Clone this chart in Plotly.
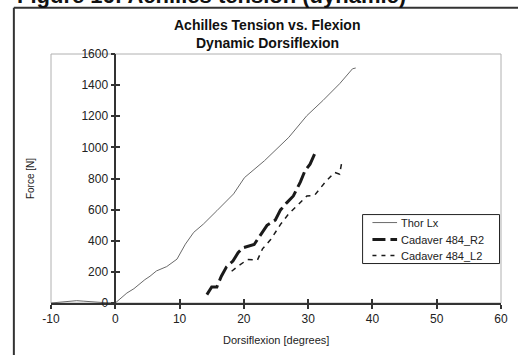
import plotly.graph_objects as go

# ---- data ----
thor_x = [-10, -9, -8, -7, -6, -5, -4, -3, -2, -1, 0, 1.8, 2.9, 4.6, 5.4, 6.4, 8.0, 9.6, 10.9, 12.2, 13.7,
          15.8, 18.4, 20.1, 23.2, 27.0, 29.8, 32.3, 34.9, 36.9, 37.4]
thor_y = [0, 4, 10, 14, 15, 12, 8, 5, 3, 1, 0, 64, 92, 150, 172, 206, 234, 282, 378, 454, 507,
          593, 701, 806, 914, 1065, 1204, 1301, 1409, 1505, 1510]

r2_x = [14.25, 15.0, 15.8, 16.5, 17.3, 18.3, 19.1, 19.85, 21.6, 22.6, 23.6, 24.9, 25.7, 26.7, 27.7, 28.8,
        29.5, 30.3, 31.0, 31.55]
r2_y = [54, 103, 103, 172, 232, 269, 323, 355, 376, 441, 499, 533, 598, 645, 688, 778,
        849, 892, 957, 963]

l2_x = [18.1, 19.1, 20.6, 22.1, 22.9, 24.2, 25.7, 27.0, 28.5, 29.8, 31.0, 32.6, 34.1, 34.9, 35.3]
l2_y = [204, 237, 280, 275, 348, 409, 505, 574, 634, 688, 692, 774, 839, 828, 920]

series_names = ["Thor Lx", "Cadaver 484_R2", "Cadaver 484_L2"]

x_ticks = [-10, 0, 10, 20, 30, 40, 50, 60]
y_ticks = [0, 200, 400, 600, 800, 1000, 1200, 1400, 1600]

FONT = "Liberation Sans, Arial, sans-serif"

# layout geometry (pixels)
W, H = 518, 355
PL, PR, PT, PB = 50.7, 507.5, 54.3, 303.5


def px(xp):
    return (xp - PL) / (PR - PL)


def py(yp):
    return (PB - yp) / (PB - PT)


styles = [
    dict(color="#6a6a6a", width=1, dash="solid"),
    dict(color="#1a1a1a", width=3, dash="16px,5px"),
    dict(color="#1a1a1a", width=1.5, dash="5px,5px"),
]

fig = go.Figure()
for xs, ys, nm, st in zip([thor_x, r2_x, l2_x], [thor_y, r2_y, l2_y], series_names, styles):
    fig.add_trace(go.Scatter(x=xs, y=ys, mode="lines", name=nm, line=st, showlegend=False))
# helper trace for the inner half of the crossing ticks
fig.add_trace(go.Scatter(x=[None], y=[None], xaxis="x2", yaxis="y2", showlegend=False,
                         hoverinfo="skip"))

ypos = (0 - (-10)) / 70.0

fig.update_layout(
    width=W, height=H,
    margin=dict(l=PL, r=W - PR, t=PT, b=H - PB),
    paper_bgcolor="white", plot_bgcolor="white",
    font=dict(family=FONT, color="#222", size=11),
    showlegend=False,
    xaxis=dict(range=[-10, 60], domain=[0, 1], tickvals=x_ticks,
               ticktext=[str(v) for v in x_ticks],
               showgrid=False, zeroline=False, showline=True, linecolor="#333", linewidth=1.5,
               ticks="outside", ticklen=4, tickcolor="#333", tickwidth=1.5,
               tickfont=dict(size=12, color="#222")),
    yaxis=dict(range=[0, 1600], tickvals=y_ticks, ticktext=[str(v) for v in y_ticks],
               anchor="free", position=ypos,
               showgrid=False, zeroline=False, showline=True, linecolor="#333", linewidth=1.5,
               ticks="outside", ticklen=4, tickcolor="#333", tickwidth=1.5,
               tickfont=dict(size=12, color="#222")),
    xaxis2=dict(range=[-10, 60], overlaying="x", anchor="y", tickvals=x_ticks, showticklabels=False,
                showgrid=False, zeroline=False, showline=False, ticks="inside", ticklen=4,
                tickcolor="#333", tickwidth=1.5, side="bottom"),
    yaxis2=dict(range=[0, 1600], overlaying="y", anchor="free", position=ypos, tickvals=y_ticks,
                showticklabels=False, showgrid=False, zeroline=False, showline=False,
                ticks="inside", ticklen=4, tickcolor="#333", tickwidth=1.5, side="left"),
)

# plot-area frame (light grey), and the outer chart frame
fig.add_shape(type="rect", xref="paper", yref="paper", x0=0, y0=0, x1=1, y1=1,
              line=dict(color="#b0b0b0", width=1), layer="below")
fig.add_shape(type="line", xref="paper", yref="paper", x0=px(13), y0=py(8), x1=px(13), y1=py(360),
              line=dict(color="#333", width=2))
fig.add_shape(type="line", xref="paper", yref="paper", x0=px(13), y0=py(8), x1=px(525), y1=py(8),
              line=dict(color="#333", width=2))

# axis titles
fig.add_annotation(text="Force [N]", xref="paper", yref="paper", x=px(30), y=0.5,
                   textangle=-90, showarrow=False, font=dict(size=10, color="#222"),
                   xanchor="center", yanchor="middle")
fig.add_annotation(text="Dorsiflexion [degrees]", xref="paper", yref="paper", x=px(279), y=py(341),
                   showarrow=False, font=dict(size=11, color="#222"),
                   xanchor="center", yanchor="middle")

# chart titles
fig.add_annotation(text="<b>Achilles Tension vs. Flexion</b>", xref="paper", yref="paper",
                   x=px(270), y=py(25), showarrow=False,
                   font=dict(size=14, color="#111"), xanchor="center", yanchor="middle")
fig.add_annotation(text="<b>Dynamic Dorsiflexion</b>", xref="paper", yref="paper",
                   x=px(270), y=py(43), showarrow=False,
                   font=dict(size=14, color="#111"), xanchor="center", yanchor="middle")

# page heading, cut off by the top edge (as in the reference)
fig.add_annotation(text="<b>Figure 16: Achilles tension (dynamic)</b>", xref="paper", yref="paper",
                   x=px(14), y=py(10), showarrow=False,
                   font=dict(size=22, color="#111"), xanchor="left", yanchor="bottom")

# legend box drawn by hand (compact row spacing as in the reference)
fig.add_shape(type="rect", xref="paper", yref="paper", x0=px(367), y0=py(264), x1=px(506), y1=py(215),
              line=dict(color="#222", width=1), fillcolor="white")
row_y = [223, 240, 256]
for nm, st, ry in zip(series_names, styles, row_y):
    dash = st["dash"]
    if dash == "16px,5px":
        dash = "13px,5px"
    elif dash == "5px,5px":
        dash = "4px,5px"
    fig.add_shape(type="line", xref="paper", yref="paper", x0=px(377), y0=py(ry), x1=px(402), y1=py(ry),
                  line=dict(color=st["color"], width=st["width"], dash=dash))
    fig.add_annotation(text=nm, xref="paper", yref="paper", x=px(404), y=py(ry), showarrow=False,
                       font=dict(size=11, color="#222"), xanchor="left", yanchor="middle")

fig.write_html("out.html")
